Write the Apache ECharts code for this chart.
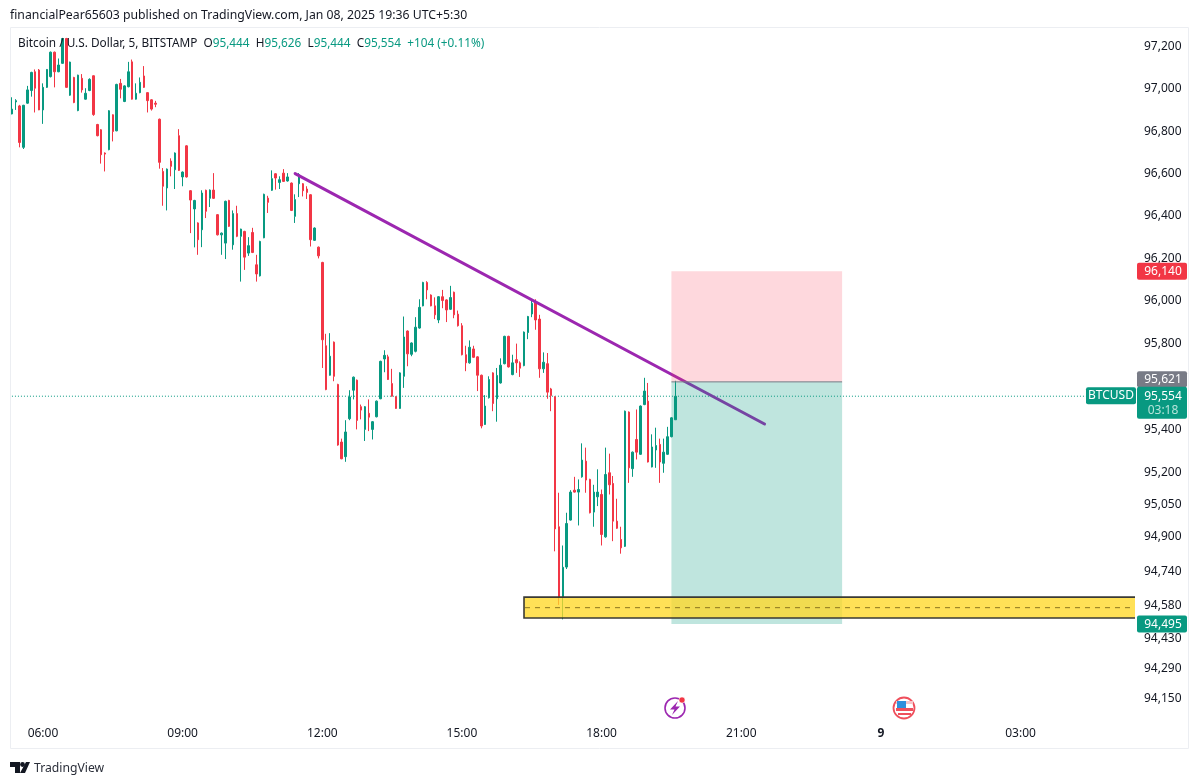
<!DOCTYPE html>
<html><head><meta charset="utf-8">
<style>html,body{margin:0;padding:0;background:#fff}#c{width:1200px;height:784px}</style>
<script src="https://cdn.jsdelivr.net/npm/echarts@6/dist/echarts.min.js"></script>
</head><body><div id="c"></div>
<script>
const FONT = '"Noto Sans", sans-serif';
const opens = [96882,96939,96920,96724,96933,96993,97082,97090,96901,97008,
97059,97175,97082,97122,97240,96971,97055,96898,97051,96952,
96993,97063,96832,96807,96697,96713,96878,96802,97027,96941,
97011,97129,96952,96983,97062,96983,96949,96933,96857,96610,
96532,96659,96618,96779,96584,96731,96519,96433,96367,96335,
96521,96483,96522,96406,96311,96272,96473,96264,96411,96304,
96327,96225,96322,96170,96118,96297,96484,96521,96599,96558,
96602,96565,96555,96398,96552,96552,96527,96500,96285,96253,
96181,95790,95652,95807,95609,95340,95272,95449,95582,95629,
95505,95399,95474,95399,95458,95542,95728,95738,95613,95551,
95497,95647,95859,95750,95764,95873,95977,96087,96028,95977,
95911,96020,96005,95961,96041,95938,95884,95748,95710,95775,
95738,95652,95422,95547,95663,95542,95616,95706,95834,95655,
95725,95710,95697,95852,95939,95997,95915,95682,95706,95588,
95551,94946,94622,94759,94977,95116,95107,95178,95251,95166,
95014,95085,95096,94899,95197,95147,94972,94887,94855,95480,
95216,95352,95283,95515,95531,95224,95303,95329,95241,95283,95365,95444];
const closes = [96905,96945,96747,96923,96996,97079,97004,96901,97008,97093,
97175,97082,97114,97240,97008,97128,96936,97066,96996,96980,
97046,96879,96779,96689,96692,96897,96799,97022,96999,97015,
97082,96952,96980,97032,97008,96945,96905,96928,96653,96540,
96621,96634,96697,96615,96607,96584,96475,96473,96288,96508,
96422,96522,96483,96311,96319,96469,96351,96411,96304,96338,
96206,96260,96228,96127,96280,96502,96464,96576,96579,96571,
96563,96584,96426,96477,96595,96519,96511,96288,96343,96212,
95818,95585,95741,95647,95326,95262,95387,95550,95643,95441,
95489,95505,95456,95435,95531,95717,95745,95632,95554,95497,
95663,95831,95752,95803,95877,95970,96087,96052,95977,95935,
96020,96002,95958,96016,95935,95884,95748,95710,95783,95736,
95652,95415,95508,95632,95520,95651,95699,95834,95691,95710,
95710,95685,95854,95927,95989,95911,95682,95713,95573,95557,
94936,94619,94758,94961,95107,95107,95119,95256,95163,95011,
95107,95107,94910,95189,95141,94972,94939,94848,95484,95220,
95293,95293,95508,95578,95247,95317,95324,95247,95293,95365,95453,95554];
const lows = [96880,96901,96724,96716,96930,96964,96889,96900,96835,97005,
97055,97008,97080,97120,97005,96968,96933,96895,96983,96950,
96990,96873,96776,96647,96610,96710,96752,96800,96956,96938,
97008,96950,96950,96980,97005,96889,96898,96914,96623,96448,
96426,96587,96527,96612,96540,96581,96319,96252,96217,96253,
96390,96442,96480,96308,96217,96197,96348,96241,96300,96091,
96146,96212,96225,96091,96115,96295,96414,96518,96524,96527,
96560,96562,96423,96367,96489,96492,96480,96256,96282,96200,
95686,95582,95650,95624,95323,95260,95248,95442,95539,95399,
95446,95345,95391,95352,95455,95540,95666,95630,95552,95495,
95495,95593,95694,95741,95759,95870,95975,96008,95975,95915,
95896,95966,95901,95958,95919,95880,95745,95671,95706,95733,
95578,95404,95420,95543,95484,95435,95613,95703,95688,95652,
95663,95644,95694,95821,95924,95865,95640,95663,95542,95484,
94832,94584,94517,94750,94975,95105,94952,95174,95104,95008,
94946,95042,94859,94895,95096,94879,94936,94821,94852,95150,
95178,95259,95280,95512,95245,95222,95220,95150,95197,95280,95362,95444];
const highs = [96961,96952,96925,96925,97015,97082,97093,97095,97027,97095,
97178,97178,97145,97243,97243,97130,97058,97068,97071,97004,
97051,97065,96835,96810,96700,96900,96880,97025,97048,97018,
97129,97140,97027,97055,97109,96985,96952,96944,96860,96626,
96624,96672,96700,96810,96610,96734,96522,96476,96370,96521,
96524,96525,96602,96409,96322,96472,96476,96426,96448,96340,
96330,96300,96344,96217,96283,96505,96495,96615,96602,96587,
96621,96602,96558,96502,96602,96555,96540,96503,96346,96256,
96184,95846,95849,95810,95612,95356,95442,95582,95646,95632,
95515,95508,95539,95438,95534,95720,95769,95748,95682,95554,
95666,95927,95862,95806,95924,96008,96090,96093,96031,96017,
96023,96052,96008,96071,96044,95955,95896,95790,95815,95790,
95741,95655,95559,95647,95666,95686,95731,95837,95837,95748,
95800,95717,95857,95930,96008,96008,95935,95759,95756,95593,
95554,95104,94859,95011,95116,95178,95166,95334,95314,95169,
95141,95213,95119,95314,95286,95182,95076,94946,95487,95483,
95296,95492,95511,95640,95616,95376,95407,95356,95356,95411,95456,95626];
const priceTicks = [97200,97000,96800,96600,96400,96200,96000,95800,95400,95200,95050,94900,94740,94580,94430,94290,94150];
const timeTicks = ['06:00','09:00','12:00','15:00','18:00','21:00','9','03:00'];
const barCount = 290;
const categories = [];
for (let k = 0; k < barCount; k++) {
  const m = (320 + 5 * k) % 1440;
  categories.push(m === 0 ? '9' : String(Math.floor(m / 60)).padStart(2, '0') + ':' + String(m % 60).padStart(2, '0'));
}
const trendLine = [[73, 96600], [194, 95424]];
const lastPrice = 95554;
const lastPriceLine = [[0, lastPrice], [277, lastPrice]];
const stopBox = [170, 214, 96140, 95621];
const targetBox = [170, 214, 95621, 94495];
const zoneBox = [132, 289, 94620, 94523];
const zoneMid = 94571;
const priceTags = [
  {price: 96140, text: '96,140', color: '#f23645'},
  {price: 95621, text: '95,621', color: '#787b86', above: true},
  {price: 95554, text: '95,554', color: '#089981', sub: '03:18', side: 'BTCUSD'},
  {price: 94495, text: '94,495', color: '#089981'}
];
const GREEN = '#089981', RED = '#f23645';
const candles = opens.map((o, i) => [o, closes[i], lows[i], highs[i]]);
const fmt = v => Math.round(v).toLocaleString('en-US');

const chart = echarts.init(document.getElementById('c'), null, {renderer: 'canvas'});

function boxItem(params, api, box, style, extendRight) {
  const a = api.coord([box[0], box[2]]);
  const b = api.coord([box[1], box[3]]);
  const x2 = extendRight ? params.coordSys.x + params.coordSys.width : b[0];
  return {type: 'rect', shape: {x: a[0], y: a[1], width: x2 - a[0], height: b[1] - a[1]}, style};
}
function tagText(x, y, text, fill) {
  return {type: 'text', x, y, style: {text, fill, font: '12px ' + FONT, textAlign: 'center', textVerticalAlign: 'middle'}};
}
const series = [
  {type: 'line', name: 'last', data: lastPriceLine, showSymbol: false, silent: true, z: 1,
   lineStyle: {color: GREEN, width: 1, type: [1, 2]}},
  {type: 'candlestick', name: 'BTCUSD', data: candles, barWidth: 2, z: 2,
   itemStyle: {color: GREEN, color0: RED, borderColor: GREEN, borderColor0: RED, borderWidth: 1}},
  {type: 'line', name: 'trend', data: trendLine, showSymbol: false, silent: true, z: 3,
   lineStyle: {color: '#9c27b0', width: 3, cap: 'round'}},
  {type: 'custom', name: 'boxes', data: [0], silent: true, z: 4, clip: false,
   renderItem(params, api) {
     const right = params.coordSys.x + params.coordSys.width;
     const zt = api.coord([zoneBox[0], zoneBox[2]]);
     const zb = api.coord([zoneBox[0], zoneBox[3]]);
     const ea = api.coord([stopBox[0], stopBox[3]]);
     const eb = api.coord([stopBox[1], stopBox[3]]);
     const children = [
       boxItem(params, api, stopBox, {fill: 'rgba(250,60,85,0.2)'}),
       boxItem(params, api, targetBox, {fill: 'rgba(8,153,129,0.26)'}),
       boxItem(params, api, zoneBox, {fill: 'rgba(255,217,40,0.78)'}, true),
       {type: 'polyline', shape: {points: [[right, zt[1]], [zt[0], zt[1]], [zb[0], zb[1]], [right, zb[1]]]},
        style: {fill: 'none', stroke: '#3a3a35', lineWidth: 1.6}},
       {type: 'line', shape: {x1: ea[0], y1: ea[1], x2: eb[0], y2: eb[1]}, style: {stroke: '#787b86', lineWidth: 1}}
     ];
     const za = api.coord([zoneBox[0], zoneMid]);
     children.push({type: 'line', shape: {x1: za[0] + 1, y1: za[1], x2: right - 1, y2: za[1]},
       style: {stroke: '#8a7420', lineWidth: 1, lineDash: [5, 5]}});
     return {type: 'group', children};
   }},
  {type: 'custom', name: 'tags', data: priceTags.map((_, i) => i), silent: true, z: 10, clip: false,
   renderItem(params, api) {
     const t = priceTags[api.value(0)];
     const y = api.coord([0, t.price])[1];
     const x = params.coordSys.x + params.coordSys.width + 2;
     const w = 50;
     const children = [];
     if (t.sub) {
       children.push({type: 'rect', shape: {x, y: y - 9.5, width: w, height: 32, r: 2}, style: {fill: t.color}});
       children.push(tagText(x + 26, y, t.text, '#fff'));
       children.push(tagText(x + 26, y + 14, t.sub, '#b5e4da'));
       children.push({type: 'rect', shape: {x: x - 51, y: y - 9, width: 50, height: 17, r: 2}, style: {fill: t.color}});
       children.push(tagText(x - 26, y - 0.5, t.side, '#fff'));
     } else if (t.above) {
       children.push({type: 'rect', shape: {x, y: y - 10.5, width: w, height: 16, r: 2}, style: {fill: t.color}});
       children.push(tagText(x + 26, y - 2.5, t.text, '#fff'));
     } else {
       children.push({type: 'rect', shape: {x, y: y - 8.5, width: w, height: 17, r: 2}, style: {fill: t.color}});
       children.push(tagText(x + 26, y, t.text, '#fff'));
     }
     return {type: 'group', children};
   }}
];

chart.setOption({
  animation: false,
  backgroundColor: '#ffffff',
  title: [
    {text: 'financialPear65603 published on TradingView.com, Jan 08, 2025 19:36 UTC+5:30', left: 5, top: 5,
     textStyle: {fontFamily: FONT, fontSize: 12.25, fontWeight: 'normal', color: '#131722'}},
    {text: '{l|Bitcoin / U.S. Dollar, 5, BITSTAMP}  {l|O}{v|95,444}  {l|H}{v|95,626}  {l|L}{v|95,444}  {l|C}{v|95,554}  {v|+104 (+0.11%)}',
     left: 13, top: 33,
     textStyle: {fontFamily: FONT, fontSize: 11.8, fontWeight: 'normal',
       rich: {l: {color: '#131722', fontSize: 11.8, fontFamily: FONT}, v: {color: GREEN, fontSize: 11.8, fontFamily: FONT}}}},
    {text: 'TradingView', left: 29, top: 758,
     textStyle: {fontFamily: FONT, fontSize: 12.2, fontWeight: 'normal', color: '#2a2e39'}}
  ],
  grid: {left: 10, right: 65, top: 28, bottom: 64, show: false},
  xAxis: {
    type: 'category', data: categories, boundaryGap: true,
    axisLine: {show: false}, axisTick: {show: false}, splitLine: {show: false},
    axisLabel: {
      interval: (i, name) => timeTicks.includes(name), hideOverlap: false,
      margin: 8, fontFamily: FONT, fontSize: 12, color: '#131722',
      formatter: v => v === '9' ? '{b|9}' : v,
      rich: {b: {fontWeight: 'bold', fontFamily: FONT, fontSize: 12, color: '#131722'}}
    }
  },
  yAxis: {
    type: 'log', position: 'right', min: 94053, max: 97290, logBase: 10, scale: true,
    axisLine: {show: false}, axisTick: {show: false}, splitLine: {show: false}, minorSplitLine: {show: false},
    axisLabel: {customValues: priceTicks, margin: 9, fontFamily: FONT, fontSize: 12, color: '#131722', formatter: v => fmt(v)}
  },
  series,
  graphic: [
    {type: 'rect', z: -1, silent: true, shape: {x: 10.5, y: 27.5, width: 1178, height: 721}, style: {fill: 'none', stroke: '#eceef2', lineWidth: 1}},
    {type: 'group', silent: true, children: [
      {type: 'circle', shape: {cx: 675, cy: 708, r: 10}, style: {fill: '#fff', stroke: '#9c27b0', lineWidth: 1.6}},
      {type: 'polygon', shape: {points: [[678, 701], [670, 709.5], [674.5, 709.5], [672, 715], [680, 706.5], [675.5, 706.5]]}, style: {fill: '#9c27b0'}},
      {type: 'circle', shape: {cx: 682, cy: 700, r: 3}, style: {fill: '#f23645', stroke: '#fff', lineWidth: 0.5}},
      {type: 'circle', shape: {cx: 904, cy: 708, r: 10.5}, style: {fill: '#fff', stroke: '#ef4f5c', lineWidth: 1.8}},
      {type: 'rect', shape: {x: 896, y: 701, width: 17, height: 3}, style: {fill: '#f7c5c9'}},
      {type: 'rect', shape: {x: 896, y: 708, width: 17, height: 3}, style: {fill: '#ef4f5c'}},
      {type: 'rect', shape: {x: 898, y: 713, width: 13, height: 2}, style: {fill: '#ef4f5c'}},
      {type: 'rect', shape: {x: 897, y: 701, width: 9, height: 7}, style: {fill: '#2f8fdc'}}
    ]},
    {type: 'group', silent: true, children: [
      {type: 'polygon', shape: {points: [[10, 762], [20, 762], [20, 773], [15, 773], [15, 767], [10, 767]]}, style: {fill: '#131722'}},
      {type: 'circle', shape: {cx: 22.5, cy: 764.5, r: 2.4}, style: {fill: '#131722'}},
      {type: 'polygon', shape: {points: [[26, 762], [30, 762], [25, 773], [20, 773]]}, style: {fill: '#131722'}}
    ]}
  ]
});
</script></body></html>
